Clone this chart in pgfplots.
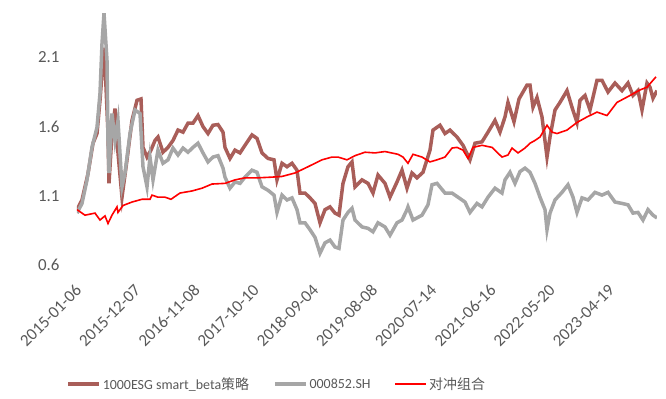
\documentclass[border=0pt]{standalone}
\usepackage{pgfplots}
\pgfplotsset{compat=1.18}
\usepackage{fontspec}
\setmainfont{Carlito}
\newfontfamily\cjk{Noto Sans CJK SC}
\definecolor{esg}{RGB}{169,94,89}
\definecolor{csi}{RGB}{166,166,166}
\definecolor{txt}{RGB}{89,89,89}
\begin{document}
\begin{tikzpicture}
\begin{axis}[
  at={(0,0)}, anchor=south west,
  scale only axis, width=580bp, height=256bp,
  xmin=0, xmax=580, ymin=0.6, ymax=2.45,
  axis line style={draw=none}, major tick length=0pt,
  /pgf/number format/assume math mode=true,
  ytick={0.6,1.1,1.6,2.1}, yticklabels={0.6,1.1,1.6,2.1},
  xtick={0,59.2,118.4,177.6,236.8,296,355.2,414.4,473.6,532.8},
  xticklabels={2015-01-06,2015-12-07,2016-11-08,2017-10-10,2018-09-04,2019-08-08,2020-07-14,2021-06-16,2022-05-20,2023-04-19},
  ticklabel style={font=\fontsize{17}{17}\selectfont, text=txt},
  xticklabel style={xshift=4bp, yshift=-20bp, rotate=45, anchor=east},
  yticklabel style={xshift=-14bp},
  legend style={at={(-0.024,-0.465)}, anchor=west, draw=none, fill=none,
    legend columns=-1, font=\fontsize{14}{14}\selectfont, text=txt,
    /tikz/every even column/.append style={column sep=22bp}},
  legend image code/.code={\draw[#1] (0bp,0bp) -- (31bp,0bp);},
]
\addplot[esg, line width=3.5bp] coordinates {
(0,1.0) (5,1.07) (11,1.26) (16,1.48) (20,1.55) (23,1.79) (26,2.08) (27,2.17) (28,2.06) (31,1.55) (32,1.19) (35,1.55) (38,1.73) (41,1.41) (45,1.09) (50,1.36) (55,1.645) (60,1.79) (64,1.80) (66,1.45) (70,1.38) (74,1.43) (78,1.50) (81,1.525) (86,1.415) (91,1.45) (96,1.50) (101,1.575) (106,1.56) (111,1.625) (116,1.625) (121,1.68) (126,1.60) (131,1.55) (136,1.61) (141,1.615) (146,1.56) (148,1.45) (153,1.37) (158,1.43) (163,1.41) (168,1.465) (175,1.54) (180,1.515) (185,1.41) (191,1.37) (197,1.36) (200,1.215) (205,1.335) (210,1.31) (215,1.335) (220,1.285) (223,1.12) (228,1.12) (233,1.085) (238,1.045) (243,0.905) (248,1.0) (253,1.02) (258,0.975) (262,0.96) (266,1.19) (271,1.31) (275,1.345) (278,1.165) (285,1.215) (291,1.19) (296,1.12) (301,1.25) (308,1.19) (313,1.09) (320,1.20) (325,1.285) (330,1.155) (335,1.265) (340,1.23) (346,1.27) (353,1.43) (356,1.575) (363,1.61) (368,1.55) (373,1.575) (380,1.525) (386,1.465) (393,1.36) (398,1.48) (405,1.49) (411,1.56) (418,1.645) (423,1.56) (428,1.67) (431,1.775) (437,1.635) (442,1.80) (450,1.90) (453,1.90) (456,1.74) (460,1.81) (465,1.67) (470,1.38) (473,1.525) (478,1.72) (483,1.775) (490,1.86) (495,1.74) (500,1.63) (503,1.79) (508,1.825) (513,1.72) (520,1.935) (525,1.935) (531,1.85) (538,1.915) (545,1.86) (551,1.915) (556,1.825) (561,1.86) (565,1.72) (570,1.915) (573,1.885) (576,1.805) (580,1.86)
};
\addlegendentry{1000ESG smart\_beta{\cjk 策略}}
\addplot[csi, line width=3.5bp] coordinates {
(0,0.975) (5,1.045) (10,1.215) (15,1.45) (20,1.595) (23,1.84) (25,2.20) (27,2.42) (30,2.08) (31,1.50) (32,1.265) (35,1.695) (38,1.50) (41,1.645) (45,1.165) (48,1.265) (53,1.55) (58,1.72) (63,1.695) (66,1.31) (70,1.165) (73,1.38) (76,1.215) (81,1.43) (86,1.335) (91,1.36) (96,1.445) (101,1.395) (106,1.445) (111,1.415) (116,1.45) (121,1.48) (126,1.41) (131,1.345) (136,1.38) (141,1.39) (146,1.30) (148,1.235) (153,1.155) (158,1.20) (163,1.19) (168,1.235) (175,1.285) (180,1.27) (185,1.165) (191,1.14) (197,1.105) (200,0.98) (205,1.105) (210,1.07) (215,1.085) (220,1.0) (223,0.905) (228,0.905) (233,0.855) (238,0.80) (243,0.685) (248,0.76) (253,0.78) (258,0.73) (262,0.72) (266,0.925) (271,0.98) (275,1.01) (278,0.925) (285,0.875) (291,0.865) (296,0.84) (301,0.905) (308,0.875) (313,0.815) (320,0.905) (325,0.925) (330,1.0) (331,1.02) (336,0.925) (345,0.96) (351,1.035) (355,1.18) (360,1.19) (368,1.12) (375,1.12) (381,1.09) (388,1.055) (393,0.98) (400,1.045) (405,1.02) (411,1.09) (418,1.155) (425,1.12) (428,1.215) (433,1.27) (438,1.19) (443,1.275) (448,1.30) (453,1.27) (458,1.19) (463,1.09) (468,1.0) (470,0.855) (473,0.975) (478,1.07) (485,1.125) (491,1.18) (496,1.09) (500,0.98) (505,1.085) (511,1.07) (518,1.125) (525,1.105) (531,1.125) (538,1.055) (545,1.045) (551,1.035) (556,0.975) (561,0.98) (566,0.925) (571,1.0) (576,0.96) (580,0.94)
};
\addlegendentry{000852.SH}
\addplot[red, line width=1.6bp] coordinates {
(0,1.0) (8,0.96) (18,0.975) (23,0.925) (28,0.955) (31,0.90) (35,0.96) (40,1.02) (41,0.98) (46,1.03) (55,1.055) (65,1.075) (73,1.075) (75,1.105) (81,1.09) (88,1.09) (94,1.075) (103,1.12) (115,1.135) (125,1.155) (135,1.185) (148,1.19) (158,1.215) (168,1.23) (181,1.23) (195,1.235) (205,1.24) (218,1.265) (231,1.31) (245,1.36) (255,1.38) (261,1.38) (270,1.36) (278,1.39) (288,1.415) (298,1.41) (308,1.42) (321,1.40) (326,1.38) (331,1.335) (336,1.40) (345,1.38) (353,1.345) (360,1.36) (368,1.38) (375,1.445) (380,1.45) (386,1.43) (391,1.37) (396,1.45) (405,1.465) (415,1.45) (425,1.38) (431,1.395) (435,1.445) (441,1.41) (448,1.445) (453,1.48) (458,1.50) (463,1.525) (470,1.61) (475,1.56) (480,1.55) (490,1.575) (500,1.63) (510,1.67) (520,1.705) (530,1.68) (540,1.775) (553,1.825) (563,1.865) (570,1.885) (576,1.935) (579,1.96)
};
\addlegendentry{{\cjk 对冲组合}}
\end{axis}
\pgfresetboundingbox
\path[use as bounding box] (-77bp,-134bp) rectangle (589bp,265bp);
\end{tikzpicture}
\end{document}
